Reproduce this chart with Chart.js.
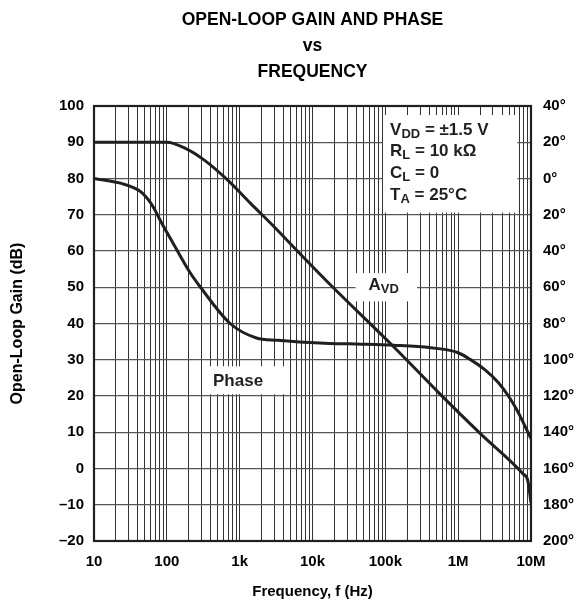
<!DOCTYPE html>
<html>
<head>
<meta charset="utf-8">
<script src="https://cdn.jsdelivr.net/npm/chart.js@4.4.0/dist/chart.umd.min.js"></script>
<style>
  html, body { margin: 0; padding: 0; background: #fff; }
  canvas { display: block; }
</style>
</head>
<body>
<canvas id="gainPhaseChart" width="581" height="604"></canvas>
<script>
// open-loop gain (dB)
const gainFreq = [10, 100, 180, 320, 680, 1400, 2900, 7000, 18600, 130000, 560000, 2000000, 7800000, 9000000, 10000000];
const gainDb = [90, 90, 88.3, 85.2, 79.6, 73.2, 66.9, 58.9, 50.2, 33.6, 20.6, 9.7, -1.5, -3.2, -9.5];

// phase (degrees of lag), plotted on the right axis
const phaseFreq = [10, 25, 43, 50, 59, 70, 81, 123, 209, 290, 740, 1700, 3300, 6600, 17000, 48000, 130000, 420000, 980000, 1460000, 2340000, 3550000, 4900000, 6460000, 10000000];
const phaseDeg = [0, 3, 7, 9.5, 13, 18, 23, 36, 52, 60, 80, 88, 89.3, 90.2, 91, 91.4, 92, 93.4, 96, 99.8, 105.6, 112.5, 120, 128, 143.5];

const freqTickLabels = ["10", "100", "1k", "10k", "100k", "1M", "10M"];
const titleLines = ["OPEN-LOOP GAIN AND PHASE", "vs", "FREQUENCY"];
const conditions = [["V", "DD", " = \u00b11.5 V"], ["R", "L", " = 10 k\u03a9"], ["C", "L", " = 0"], ["T", "A", " = 25\u00b0C"]];

const FONT = "'Liberation Sans', Arial, sans-serif";
const INK = "#231f20";

function toPoints(xs, ys) {
  return xs.map((x, i) => ({ x: x, y: ys[i] }));
}

function subText(ctx, x, y, parts, size) {
  ctx.font = "bold " + size + "px " + FONT;
  ctx.fillText(parts[0], x, y);
  x += ctx.measureText(parts[0]).width;
  ctx.font = "bold " + Math.round(size * 0.76) + "px " + FONT;
  ctx.fillText(parts[1], x, y + 4);
  x += ctx.measureText(parts[1]).width;
  if (parts[2]) {
    ctx.font = "bold " + size + "px " + FONT;
    ctx.fillText(parts[2], x, y);
  }
}

// white label boxes over the grid, frame and title
const overlay = {
  id: "overlay",
  beforeDatasetsDraw(chart) {
    const ctx = chart.ctx;
    const xs = chart.scales.x, ys = chart.scales.y;
    ctx.save();
    ctx.fillStyle = "#fff";
    // conditions box
    const bl = xs.getPixelForValue(93000), br = xs.getPixelForValue(6500000);
    const bt = ys.getPixelForValue(97.5), bb = ys.getPixelForValue(70.6);
    ctx.fillRect(bl, bt, br - bl, bb - bt);
    // A_VD box
    const al = xs.getPixelForValue(39000), ar = xs.getPixelForValue(274000);
    const at = ys.getPixelForValue(53.9), ab = ys.getPixelForValue(46.1);
    ctx.fillRect(al, at, ar - al, ab - at);
    // Phase box
    const pl = xs.getPixelForValue(380), pr = xs.getPixelForValue(4200);
    const pt = ys.getPixelForValue(28.2), pb = ys.getPixelForValue(20.5);
    ctx.fillRect(pl, pt, pr - pl, pb - pt);

    ctx.fillStyle = INK;
    ctx.textBaseline = "middle";
    ctx.textAlign = "left";
    conditions.forEach((c, i) => {
      subText(ctx, bl + 7, bt + 15 + i * 21.7, c, 17);
    });
    subText(ctx, al + 13, (at + ab) / 2 - 2, ["A", "VD", ""], 17);
    ctx.font = "bold 17px " + FONT;
    ctx.textAlign = "center";
    ctx.fillText("Phase", xs.getPixelForValue(950), ys.getPixelForValue(24.1));
    ctx.restore();
  },
  afterDraw(chart) {
    const ctx = chart.ctx, a = chart.chartArea;
    ctx.save();
    ctx.strokeStyle = INK;
    ctx.lineWidth = 2.2;
    ctx.strokeRect(a.left, a.top, a.right - a.left, a.bottom - a.top);
    ctx.fillStyle = "#000";
    ctx.font = "bold 17.5px " + FONT;
    ctx.textAlign = "center";
    ctx.textBaseline = "middle";
    const cx = (a.left + a.right) / 2;
    titleLines.forEach((t, i) => ctx.fillText(t, cx, 20 + i * 26));
    ctx.restore();
  }
};

const tickFont = { family: FONT, size: 15, weight: "bold" };

new Chart(document.getElementById("gainPhaseChart").getContext("2d"), {
  type: "line",
  data: {
    datasets: [
      {
        label: "AVD",
        data: toPoints(gainFreq, gainDb),
        yAxisID: "y",
        borderColor: INK,
        borderWidth: 3,
        pointRadius: 0,
        cubicInterpolationMode: "monotone",
        fill: false
      },
      {
        label: "Phase",
        data: toPoints(phaseFreq, phaseDeg),
        yAxisID: "y1",
        borderColor: INK,
        borderWidth: 3,
        pointRadius: 0,
        cubicInterpolationMode: "monotone",
        fill: false
      }
    ]
  },
  options: {
    responsive: false,
    animation: false,
    layout: { padding: { top: 106, left: 0, right: 0, bottom: 0 } },
    plugins: {
      legend: { display: false },
      tooltip: { enabled: false }
    },
    scales: {
      x: {
        type: "logarithmic",
        min: 10,
        max: 10000000,
        afterBuildTicks(scale) {
          const t = [];
          for (let e = 1; e <= 6; e++) {
            for (let m = 1; m <= 9; m++) t.push({ value: m * Math.pow(10, e) });
          }
          t.push({ value: 10000000 });
          scale.ticks = t;
        },
        afterFit(scale) { scale.height = 63; },
        grid: { color: "#333", lineWidth: 1, drawTicks: false },
        border: { display: false },
        ticks: {
          autoSkip: false,
          maxRotation: 0,
          padding: 12,
          color: "#000",
          font: tickFont,
          callback(v) {
            const e = Math.log10(v);
            if (Math.abs(e - Math.round(e)) < 1e-9) return freqTickLabels[Math.round(e) - 1];
            return "";
          }
        },
        title: {
          display: true,
          text: "Frequency, f (Hz)",
          color: "#000",
          font: tickFont,
          padding: { top: 0, bottom: 3 }
        }
      },
      y: {
        position: "left",
        min: -20,
        max: 100,
        afterFit(scale) { scale.width = 94; },
        grid: { color: "#555", lineWidth: 1.3, drawTicks: false },
        border: { display: false },
        ticks: {
          stepSize: 10,
          padding: 10,
          color: "#000",
          font: tickFont,
          callback(v) { return v < 0 ? "\u2013" + Math.abs(v) : String(v); }
        },
        title: {
          display: true,
          text: "Open-Loop Gain (dB)",
          color: "#000",
          font: { family: FONT, size: 16, weight: "bold" },
          padding: { top: 8, bottom: 0 }
        }
      },
      y1: {
        position: "right",
        reverse: true,
        min: -40,
        max: 200,
        afterFit(scale) { scale.width = 50; },
        grid: { display: false, drawTicks: false },
        border: { display: false },
        ticks: {
          stepSize: 20,
          padding: 12,
          color: "#000",
          font: tickFont,
          callback(v) { return Math.abs(v) + "\u00b0"; }
        }
      }
    }
  },
  plugins: [overlay]
});
</script>
</body>
</html>
